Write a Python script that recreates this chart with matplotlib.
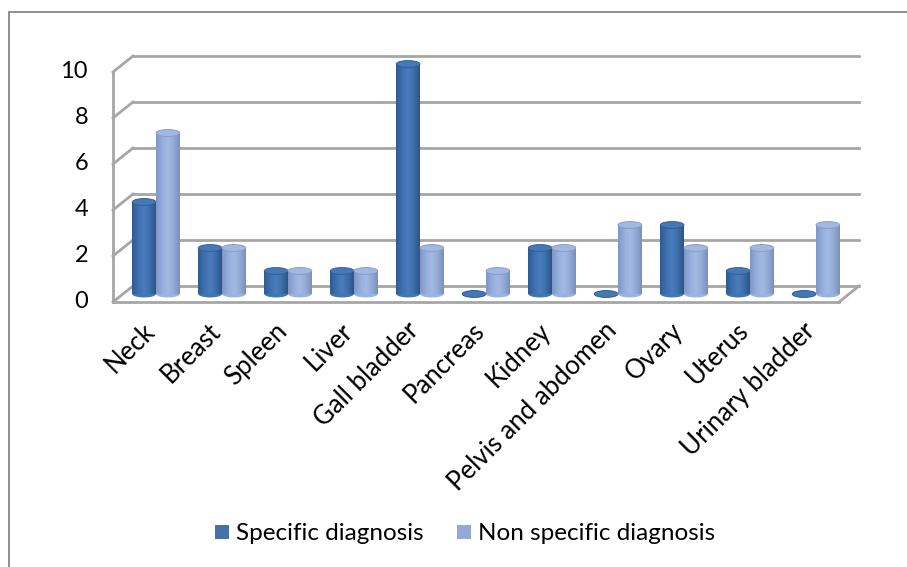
import numpy as np
import matplotlib
matplotlib.use("Agg")
import matplotlib.pyplot as plt
import matplotlib.transforms as mtransforms
from matplotlib.patches import Rectangle, Ellipse
from matplotlib.colors import LinearSegmentedColormap

categories = ["Neck", "Breast", "Spleen", "Liver", "Gall bladder", "Pancreas",
              "Kidney", "Pelvis and abdomen", "Ovary", "Uterus", "Urinary bladder"]
specific = [4, 2, 1, 1, 10, 0, 2, 0, 3, 1, 0]
non_specific = [7, 2, 1, 1, 2, 1, 2, 3, 2, 2, 3]
series_names = ["Specific diagnosis", "Non specific diagnosis"]
yticks = [0, 2, 4, 6, 8, 10]

FONT = "Lato"
W, H = 907, 567
fig = plt.figure(figsize=(W / 100, H / 100), dpi=100)
fig.patch.set_facecolor("white")

# outer chart border (only top/left visible in reference)
fig.add_artist(Rectangle((9 / W, -0.05), 1.2, (H - 12) / H + 0.05, transform=fig.transFigure,
                         fill=False, edgecolor="#868686", linewidth=1.3))

# axes = front plane of the 3D box
ax = fig.add_axes([113 / W, (H - 302) / H, 726 / W, 230 / H])
ax.set_xlim(-0.5, len(categories) - 0.5)
ax.set_ylim(0, 10)
ax.axis("off")

DX, DY = 20, 16  # depth offset (pixels)
t_front = ax.transData
t_back = mtransforms.offset_copy(ax.transData, fig=fig, x=DX, y=DY, units="dots")
t_mid = mtransforms.offset_copy(ax.transData, fig=fig, x=DX / 2, y=DY / 2, units="dots")

grid_c = "#A6A6A6"
x0, x1 = -0.5, len(categories) - 0.5
# back wall gridlines
for v in yticks:
    ax.plot([x0, x1], [v, v], transform=t_back, color=grid_c, lw=2.0, clip_on=False, zorder=1)

def diag(x, v):
    p0 = t_front.transform((x, v))
    p1 = t_back.transform((x, v))
    ax.plot([p0[0], p1[0]], [p0[1], p1[1]], transform=None, color=grid_c, lw=2.0,
            clip_on=False, zorder=1)
for v in yticks:
    diag(x0, v)
diag(x1, 0)
# front left vertical edge and front floor edge
ax.plot([x0, x0], [0, 10], transform=t_front, color=grid_c, lw=2.0, clip_on=False, zorder=1)
ax.plot([x0, x1], [0, 0], transform=t_front, color=grid_c, lw=2.0, clip_on=False, zorder=1)

# cylinders
dark_cmap = LinearSegmentedColormap.from_list(
    "d", ["#2E5B91", "#3E6FAE", "#4A7DBD", "#3E6EA9", "#2B5487"])
light_cmap = LinearSegmentedColormap.from_list(
    "l", ["#7E97C6", "#94ADDB", "#A3BAE4", "#93AAD6", "#7A90BC"])
top_dark = "#4677B6"
top_light = "#A3B8E0"
edge_dark = "#2F5A8E"
edge_light = "#8297C2"
bw = 0.36
eh = 0.30
grad = np.linspace(0, 1, 64).reshape(1, -1)

def cylinder(xc, val, cmap, topc, edgec, z):
    left = xc - bw / 2
    ax.add_patch(Ellipse((xc, 0), bw, eh, transform=t_mid, facecolor=cmap(0.35),
                         edgecolor="none", zorder=z, clip_on=False))
    if val > 0:
        rect = Rectangle((left, 0), bw, val, transform=t_mid, facecolor="none",
                         edgecolor="none", zorder=z)
        ax.add_patch(rect)
        im = ax.imshow(grad, cmap=cmap, extent=(left, left + bw, 0, val), aspect="auto",
                       transform=t_mid, zorder=z + 0.1, interpolation="bilinear")
        im.set_clip_path(rect)
    ax.add_patch(Ellipse((xc, val), bw, eh, transform=t_mid, facecolor=topc,
                         edgecolor=edgec, linewidth=0.6, zorder=z + 0.2, clip_on=False))

for i in range(len(categories)):
    cylinder(i - bw / 2, specific[i], dark_cmap, top_dark, edge_dark, 3 + i * 0.01)
    cylinder(i + bw / 2, non_specific[i], light_cmap, top_light, edge_light, 4 + i * 0.01)

ax.set_xlim(-0.5, len(categories) - 0.5)
ax.set_ylim(0, 10)

# y tick labels
for v in yticks:
    p = t_front.transform((x0, v))
    fig.text(88 / W, p[1] / H, str(v), ha="right", va="center",
             fontsize=17, family=FONT, color="black")

# category labels
lab_off = mtransforms.offset_copy(ax.transData, fig=fig, x=-4, y=-16, units="dots")
for i, c in enumerate(categories):
    ax.text(i, 0, c, transform=lab_off, rotation=45, ha="right", va="top",
            rotation_mode="anchor", fontsize=18.5, family=FONT, clip_on=False)

# legend
leg_items = [(series_names[0], "#4672AA", 215), (series_names[1], "#95A9D4", 457)]
for name, col, xp in leg_items:
    fig.add_artist(Rectangle((xp / W, (H - 539) / H), 14 / W, 14 / H,
                             transform=fig.transFigure, facecolor=col, edgecolor="none"))
    fig.text((xp + 21) / W, (H - 533) / H, name, ha="left", va="center",
             fontsize=17.5, family=FONT)

fig.savefig("out.png", dpi=100, facecolor="white")
